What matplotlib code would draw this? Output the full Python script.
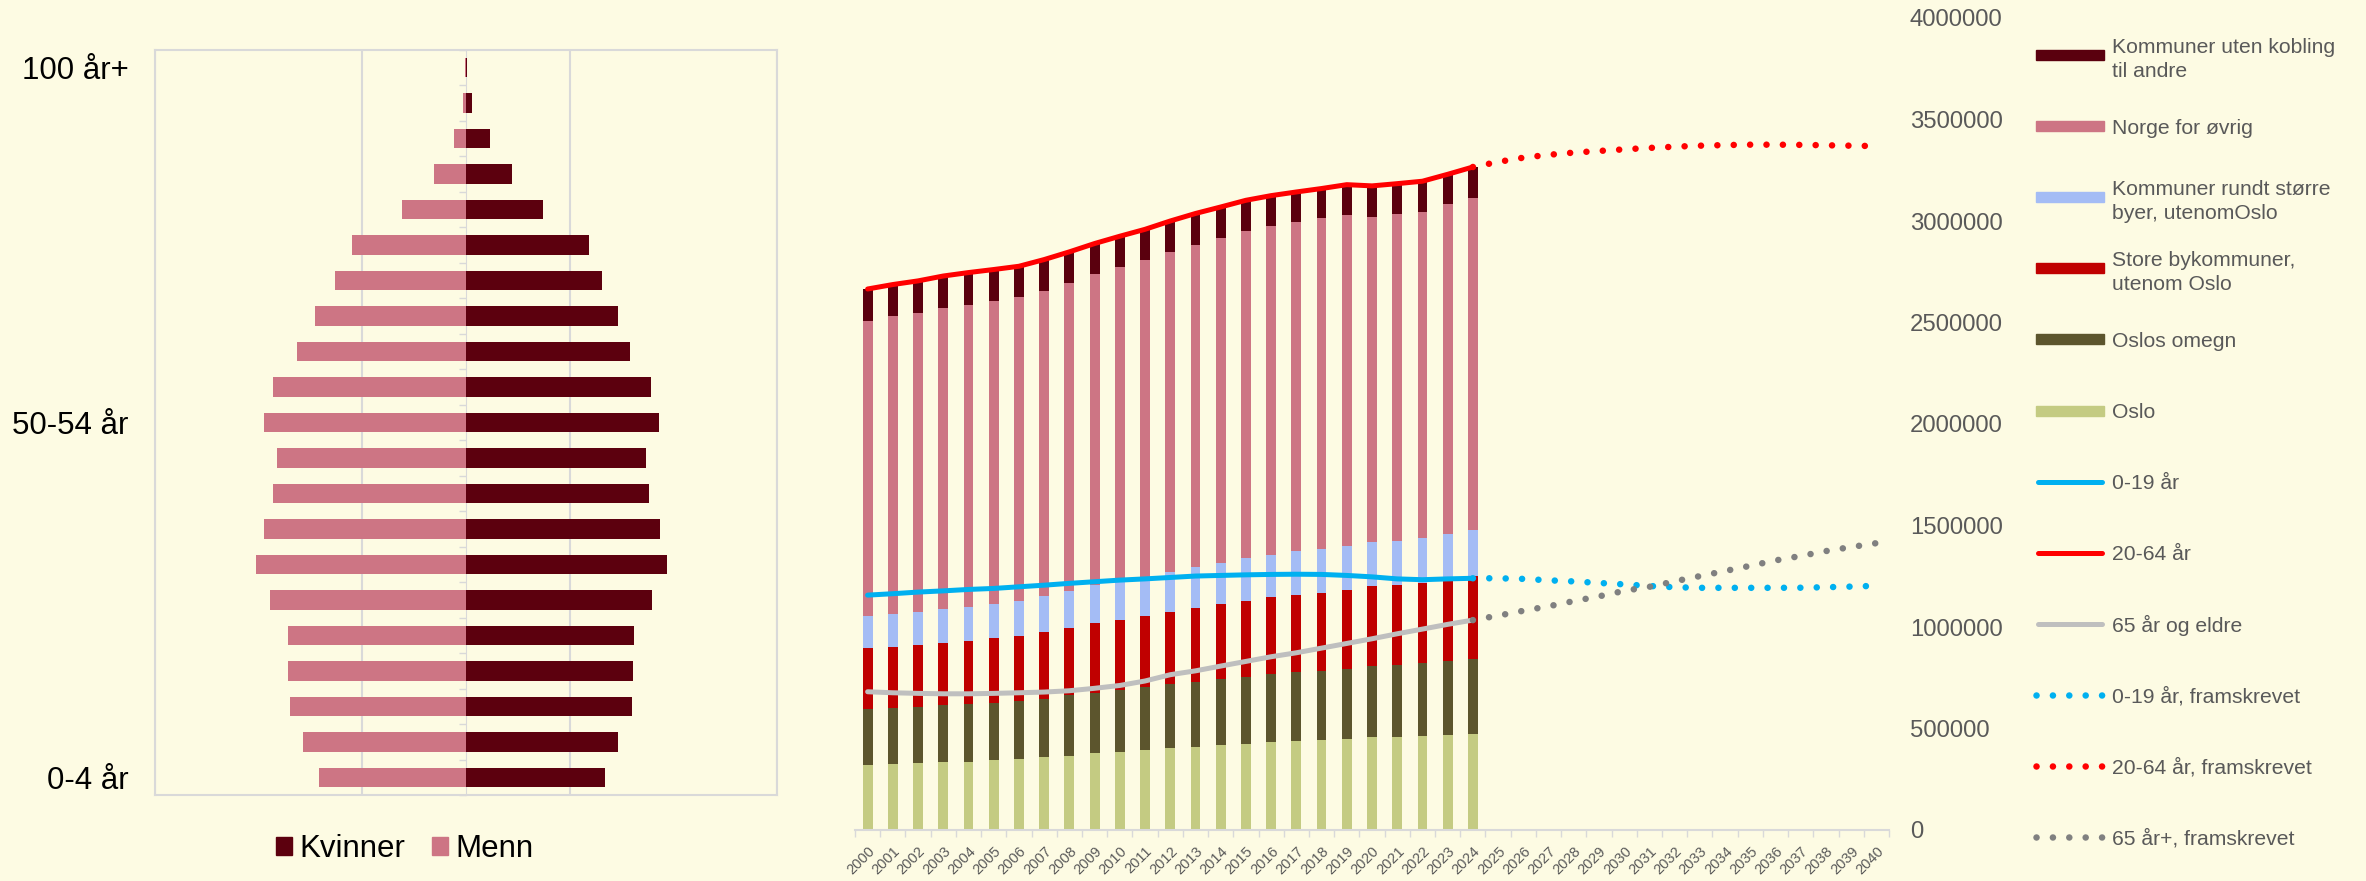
#%%
import numpy as np
import matplotlib
matplotlib.use('Agg')
import matplotlib.pyplot as plt
from matplotlib.patches import Patch, Rectangle

plt.rcParams['font.family'] = ['Liberation Sans', 'DejaVu Sans']

bakgrunn = '#FDFBE3'
graa_tekst = '#595959'
graa_linje = '#D9D9D9'

#%%
'''data: befolkningspyramide (andel i prosent)'''
aldersgrupper = ['0-4 år', '5-9 år', '10-14 år', '15-19 år', '20-24 år', '25-29 år',
                 '30-34 år', '35-39 år', '40-44 år', '45-49 år', '50-54 år', '55-59 år',
                 '60-64 år', '65-69 år', '70-74 år', '75-79 år', '80-84 år', '85-89 år',
                 '90-94 år', '95-99 år', '100 år+']
kvinner = [1.34, 1.47, 1.60, 1.61, 1.62, 1.79, 1.94, 1.87, 1.77, 1.74, 1.86,
           1.78, 1.58, 1.47, 1.31, 1.19, 0.74, 0.44, 0.23, 0.06, 0.005]
menn = [1.42, 1.57, 1.70, 1.72, 1.72, 1.89, 2.03, 1.95, 1.86, 1.82, 1.95,
        1.86, 1.63, 1.46, 1.26, 1.10, 0.62, 0.31, 0.12, 0.03, 0.01]
pyramide_etiketter = {0: '0-4 år', 10: '50-54 år', 20: '100 år+'}

#%%
'''data: befolkning 20-64 år etter kommunetype, og aldersgrupper'''
aar = [str(a) for a in range(2000, 2041)]
aar_hist = aar[:25]
aar_fram = aar[24:]

oslo = [321700, 323300, 328200, 333100, 336400, 343000, 349600, 357800, 366000, 377500,
        384100, 393900, 403800, 408700, 417000, 425000, 433300, 438200, 443200, 448100,
        457900, 459400, 461400, 467800, 474200]
oslos_omegn = [272500, 275800, 279100, 280800, 282500, 284000, 283900, 288800, 297100, 298700,
               303600, 308600, 313400, 318300, 325000, 327000, 333700, 338300, 341200, 344700,
               348100, 351600, 359600, 364200, 369300]
store_by = [300400, 303600, 303700, 308500, 313300, 316800, 321800, 328400, 333200, 342800,
            347900, 352900, 357800, 368000, 369000, 377000, 379000, 382500, 384600, 390200,
            394000, 397000, 397000, 396000, 407500]
rundt_byer = [157400, 159300, 164000, 165600, 165800, 169200, 172700, 177000, 180700, 186000,
              187400, 188600, 195000, 200000, 205000, 210000, 211000, 213000, 215000, 215000,
              217000, 218000, 220000, 231000, 226000]
norge_ovrig = [1456000, 1469000, 1472000, 1482000, 1490000, 1492000, 1496000, 1502000,
               1516000, 1533000, 1548000, 1563000, 1575000, 1587000, 1599000, 1610000,
               1617000, 1623000, 1629000, 1630000, 1603000, 1607000, 1607000, 1623000, 1636000]
uten_kobling = [157000, 156000, 158000, 159000, 158000, 156000, 153000, 156000, 155000,
                151000, 154000, 152000, 155000, 155000, 154000, 153000, 151000, 148000,
                147000, 151000, 153000, 151000, 151000, 148000, 153000]

alder_0_19 = [1157000, 1164000, 1172000, 1178000, 1185000, 1190000, 1198000, 1206000,
              1215000, 1223000, 1231000, 1237000, 1244000, 1251000, 1254000, 1257000,
              1259000, 1260000, 1259000, 1254000, 1247000, 1237000, 1233000, 1237000, 1240000]
alder_20_64 = [2665000, 2687000, 2705000, 2729000, 2746000, 2761000, 2777000, 2810000,
               2848000, 2889000, 2925000, 2959000, 3000000, 3037000, 3069000, 3102000,
               3125000, 3143000, 3160000, 3179000, 3173000, 3184000, 3196000, 3230000, 3266000]
alder_65 = [681000, 676000, 673000, 671000, 671000, 673000, 676000, 679500, 686000, 698000,
            712000, 734000, 765000, 784000, 807500, 830500, 853500, 873000, 896000, 919000,
            942000, 966600, 989700, 1013000, 1034000]

fram_0_19 = [1240000, 1240000, 1237000, 1230000, 1224500, 1217000, 1210000, 1202000, 1196000,
             1193000, 1193000, 1193000, 1193000, 1193500, 1196000, 1199000, 1203000]
fram_20_64 = [3266000, 3291000, 3312000, 3326000, 3337000, 3345000, 3353000, 3360000, 3366000,
              3371000, 3374000, 3376000, 3376000, 3375000, 3373000, 3371000, 3369000]
fram_65 = [1034000, 1056000, 1080000, 1102000, 1127600, 1151000, 1178000, 1198000, 1225000,
           1250700, 1276000, 1301500, 1328000, 1350000, 1374000, 1394000, 1413000]

y_ticks = [0, 500000, 1000000, 1500000, 2000000, 2500000, 3000000, 3500000, 4000000]

stabler = [oslo, oslos_omegn, store_by, rundt_byer, norge_ovrig, uten_kobling]
stabel_farger = ['#C4CB82', '#5C552D', '#C00000', '#A4BCF5', '#CD7584', '#5A000E']

legend_tekster = ['Kommuner uten kobling\ntil andre', 'Norge for øvrig',
                  'Kommuner rundt større\nbyer, utenomOslo', 'Store bykommuner,\nutenom Oslo',
                  'Oslos omegn', 'Oslo', '0-19 år', '20-64 år', '65 år og eldre',
                  '0-19 år, framskrevet', '20-64 år, framskrevet', '65 år+, framskrevet']
legend_farger = ['#5A000E', '#CD7584', '#A4BCF5', '#C00000', '#5C552D', '#C4CB82',
                 '#00B0F0', '#FF0000', '#BFBFBF', '#00B0F0', '#FF0000', '#808080']
legend_typer = ['bar'] * 6 + ['linje'] * 3 + ['prikk'] * 3

#%%
W, H = 2366, 881
fig = plt.figure(figsize=(W / 100, H / 100), dpi=100, facecolor=bakgrunn)

'''venstre: befolkningspyramide'''
axp = fig.add_axes([155 / W, 1 - 795 / H, 622 / W, 745 / H], facecolor=bakgrunn)
pos = np.arange(len(aldersgrupper))
axp.barh(pos, kvinner, height=0.55, color='#5C000E', zorder=3)
axp.barh(pos, [-m for m in menn], height=0.55, color='#CD7584', zorder=3)
axp.set_xlim(-3, 3)
axp.set_ylim(-0.5, len(aldersgrupper) - 0.5)
axp.set_xticks([-3, -1, 1, 3])
axp.xaxis.grid(True, color=graa_linje, linewidth=1.5)
axp.set_axisbelow(True)
axp.tick_params(axis='x', length=0, labelbottom=False)
axp.set_yticks(list(pyramide_etiketter.keys()), list(pyramide_etiketter.values()))
axp.tick_params(axis='y', length=0, pad=19, labelsize=22.5, labelcolor='black')
for s in axp.spines.values():
    s.set_color(graa_linje)
    s.set_linewidth(1.5)

midt = axp.secondary_yaxis(0.5)
midt.set_alignment('left')
midt.set_yticks([p - 0.5 for p in range(len(aldersgrupper) + 1)])
midt.tick_params(axis='y', length=5, width=1, color=graa_linje, labelleft=False,
                 labelright=False)
midt.spines['left'].set_color(graa_linje)

fig.legend(handles=[Patch(color='#5C000E'), Patch(color='#CD7584')],
           labels=['Kvinner', 'Menn'], loc='center',
           bbox_to_anchor=(405 / W, 1 - 849 / H), ncol=2, frameon=False,
           fontsize=22.5, handlelength=0.5, handleheight=0.5,
           handletextpad=0.25, columnspacing=0.85)

#%%
'''hoyre: stablede soyler og linjer'''
ax = fig.add_axes([855 / W, 1 - 830 / H, 1034 / W, 812 / H], facecolor='none')
x_hist = np.arange(len(aar_hist))
x_fram = np.arange(len(aar_hist) - 1, len(aar))

bunn = np.zeros(len(aar_hist))
for verdier, farge in zip(stabler, stabel_farger):
    ax.bar(x_hist, verdier, bottom=bunn, width=0.39, color=farge, zorder=2)
    bunn = bunn + np.array(verdier)

ax.plot(x_hist, alder_0_19, color='#00B0F0', lw=3.6, solid_capstyle='round', zorder=4)
ax.plot(x_hist, alder_20_64, color='#FF0000', lw=3.6, solid_capstyle='round', zorder=4)
ax.plot(x_hist, alder_65, color='#BFBFBF', lw=3.6, solid_capstyle='round', zorder=4)

prikk = (0, (0.01, 2.5))
ax.plot(x_fram, fram_0_19, color='#00B0F0', lw=4.7, ls=prikk, dash_capstyle='round', zorder=4)
ax.plot(x_fram, fram_20_64, color='#FF0000', lw=4.7, ls=prikk, dash_capstyle='round', zorder=4)
ax.plot(x_fram, fram_65, color='#808080', lw=4.7, ls=prikk, dash_capstyle='round', zorder=4)

ax.set_xlim(-0.5, len(aar) - 0.5)
ax.set_ylim(0, 4000000)
ax.set_xticks(np.arange(len(aar)), aar)
ax.set_xticks(np.arange(len(aar) + 1) - 0.5, minor=True)
ax.tick_params(axis='x', which='major', length=0, pad=10, labelsize=10.5, labelcolor=graa_tekst)
ax.tick_params(axis='x', which='minor', length=5, width=1, color=graa_linje)
for lbl in ax.get_xticklabels():
    lbl.set_rotation(45)
    lbl.set_ha('right')
    lbl.set_va('top')
    lbl.set_rotation_mode('anchor')

ax.yaxis.tick_right()
ax.set_yticks(y_ticks, [str(v) for v in y_ticks])
ax.tick_params(axis='y', length=0, pad=15, labelsize=17.2, labelcolor=graa_tekst)
for side in ['top', 'left', 'right']:
    ax.spines[side].set_visible(False)
ax.spines['bottom'].set_color(graa_linje)
ax.spines['bottom'].set_linewidth(1.5)

#%%
'''legend for hoyre diagram, tegnet manuelt'''
axl = fig.add_axes([0, 0, 1, 1], facecolor='none')
axl.set_xlim(0, W)
axl.set_ylim(H, 0)
axl.axis('off')
x0, x1 = 2036, 2104
for i, (tekst, farge, typ) in enumerate(zip(legend_tekster, legend_farger, legend_typer)):
    y = 55 + i * 71.1
    if typ == 'bar':
        axl.add_patch(Rectangle((x0, y - 5), x1 - x0, 10, color=farge))
    elif typ == 'linje':
        axl.plot([x0 + 2, x1 - 2], [y, y], color=farge, lw=3.6, solid_capstyle='round')
    else:
        axl.plot([x0, x1], [y, y], color=farge, lw=4.7, ls=prikk, dash_capstyle='round')
    axl.text(2112, y, tekst, va='center_baseline', ha='left', fontsize=15.2,
             color=graa_tekst, linespacing=1.33)

fig.savefig('out.png', dpi=100, facecolor=bakgrunn)
